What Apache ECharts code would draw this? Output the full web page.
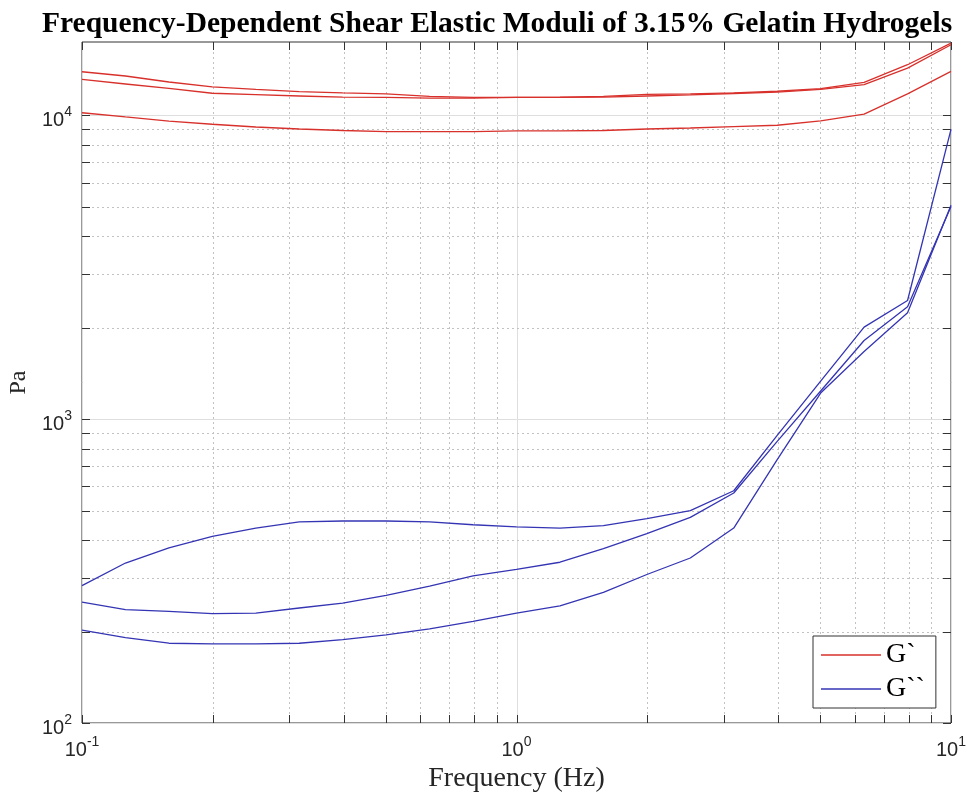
<!DOCTYPE html>
<html><head><meta charset="utf-8">
<script src="https://cdn.jsdelivr.net/npm/echarts@6/dist/echarts.min.js"></script>
<style>html,body{margin:0;padding:0;background:#fff}#c{width:967px;height:793px}</style>
</head><body><div id="c"></div>
<script>
// ---- data ----
const freqs = [0.1, 0.1259, 0.1585, 0.1995, 0.2512, 0.3162, 0.3981, 0.5012, 0.6310, 0.7943, 1, 1.2589, 1.5849, 1.9953, 2.5119, 3.1623, 3.9811, 5.0119, 6.3096, 7.9433, 10];
const gStorage1 = [13890, 13450, 12850, 12380, 12150, 11940, 11830, 11740, 11520, 11440, 11440, 11460, 11520, 11700, 11740, 11830, 11980, 12220, 12820, 14650, 17260];
const gStorage2 = [13110, 12660, 12240, 11800, 11680, 11560, 11460, 11430, 11380, 11380, 11430, 11430, 11460, 11560, 11650, 11780, 11910, 12150, 12590, 14280, 17040];
const gStorage3 = [10180, 9860, 9560, 9330, 9140, 9000, 8900, 8830, 8820, 8830, 8870, 8870, 8900, 9000, 9070, 9170, 9260, 9580, 10080, 11740, 13930];
const gLoss1 = [283, 336, 377, 411, 438, 459, 462, 462, 459, 449, 442, 438, 446, 470, 500, 581, 884, 1332, 2006, 2455, 8980];
const gLoss2 = [250, 236, 233, 229, 230, 239, 248, 263, 282, 305, 320, 338, 375, 420, 475, 571, 844, 1237, 1813, 2340, 5000];
const gLoss3 = [202, 191, 183, 182, 182, 183, 188, 195, 204, 216, 230, 243, 269, 308, 349, 438, 735, 1218, 1668, 2236, 5050];

const xMajor = [0.1, 1, 10];
const xMinor = [0.2, 0.3, 0.4, 0.5, 0.6, 0.7, 0.8, 0.9, 2, 3, 4, 5, 6, 7, 8, 9];
const yMajor = [100, 1000, 10000];
const yMinor = [200, 300, 400, 500, 600, 700, 800, 900, 2000, 3000, 4000, 5000, 6000, 7000, 8000, 9000];
const X_MIN = 0.1, X_MAX = 10, Y_MIN = 100, Y_MAX = 17400;

const titleText = 'Frequency-Dependent Shear Elastic Moduli of 3.15% Gelatin Hydrogels';
const nameStorage = 'G`', nameLoss = 'G``';

// ---- chart ----
const RED = '#d8312c', BLUE = '#3434b4';
const pairs = ys => freqs.map((f, i) => [f, ys[i]]);

function gridRenderer(dir, major) {
  return function (params, api) {
    const cs = params.coordSys;
    const tick = 8;
    const children = [];
    const gridStyle = major ? { stroke: '#dedede', lineWidth: 1 } : { stroke: '#c2c2c2', lineWidth: 1, lineDash: [2, 3] };
    const tickStyle = { stroke: '#333', lineWidth: 1 };
    if (dir === 'x') {
      const p = Math.round(api.coord([api.value(0), Y_MIN])[0]) + 0.5;
      const t = cs.y, b = cs.y + cs.height;
      children.push({ type: 'line', shape: { x1: p, y1: t, x2: p, y2: b }, style: gridStyle });
      children.push({ type: 'line', shape: { x1: p, y1: b, x2: p, y2: b - tick }, style: tickStyle });
      children.push({ type: 'line', shape: { x1: p, y1: t, x2: p, y2: t + tick }, style: tickStyle });
    } else {
      const p = Math.round(api.coord([X_MIN, api.value(1)])[1]) + 0.5;
      const l = cs.x, r = cs.x + cs.width;
      children.push({ type: 'line', shape: { x1: l, y1: p, x2: r, y2: p }, style: gridStyle });
      children.push({ type: 'line', shape: { x1: l, y1: p, x2: l + tick, y2: p }, style: tickStyle });
      children.push({ type: 'line', shape: { x1: r, y1: p, x2: r - tick, y2: p }, style: tickStyle });
    }
    return { type: 'group', children };
  };
}

function powLabel(v) {
  const e = Math.log10(v), r = Math.round(e);
  if (Math.abs(e - r) > 1e-6) return '';
  return '{b|10}{s|' + r + '}';
}
const richLab = {
  b: { fontSize: 20, fontFamily: 'Liberation Sans', color: '#262626', lineHeight: 25, verticalAlign: 'bottom' },
  s: { fontSize: 14, fontFamily: 'Liberation Sans', color: '#262626', lineHeight: 14, verticalAlign: 'top' }
};

function lineSeries(name, ys, color) {
  return {
    type: 'line', name, data: pairs(ys), showSymbol: false, symbol: 'none', z: 5,
    lineStyle: { color, width: 1.3 }, itemStyle: { color }, emphasis: { disabled: true }
  };
}

const chart = echarts.init(document.getElementById('c'), null, { renderer: 'canvas' });
chart.setOption({
  animation: false,
  backgroundColor: '#fff',
  title: {
    text: titleText, left: 37, top: 4,
    textStyle: { fontFamily: 'Liberation Serif', fontWeight: 'bold', fontSize: 29.5, color: '#000' }
  },
  grid: { left: 82, right: 16, top: 42, bottom: 70, outerBoundsMode: 'none', containLabel: false, show: true, borderColor: '#333', borderWidth: 1, backgroundColor: 'transparent' },
  xAxis: {
    type: 'log', logBase: 10, min: X_MIN, max: X_MAX,
    name: 'Frequency (Hz)', nameLocation: 'middle', nameGap: 25,
    nameTextStyle: { fontFamily: 'Liberation Serif', fontSize: 28, color: '#262626' },
    axisLine: { show: false }, axisTick: { show: false }, splitLine: { show: false }, minorSplitLine: { show: false },
    axisLabel: { formatter: powLabel, rich: richLab, margin: 12, showMinLabel: true, showMaxLabel: true }
  },
  yAxis: {
    type: 'log', logBase: 10, min: Y_MIN, max: Y_MAX,
    name: 'Pa', nameLocation: 'middle', nameGap: 45,
    nameTextStyle: { fontFamily: 'Liberation Serif', fontSize: 24, color: '#262626' },
    axisLine: { show: false }, axisTick: { show: false }, splitLine: { show: false }, minorSplitLine: { show: false },
    axisLabel: { formatter: powLabel, rich: richLab, margin: 10, padding: [6, 0, 0, 0], showMinLabel: true, showMaxLabel: true }
  },
  legend: {
    orient: 'vertical', left: 813, top: 636,
    data: [{ name: nameStorage, icon: 'rect' }, { name: nameLoss, icon: 'rect' }],
    itemWidth: 60, itemHeight: 1.5, itemGap: 6,
    padding: [5, 11, 5, 8],
    borderColor: '#333', borderWidth: 1, backgroundColor: '#fff',
    textStyle: { fontFamily: 'Liberation Serif', fontSize: 28, color: '#000', lineHeight: 28 },
    selectedMode: false
  },
  series: [
    { type: 'custom', silent: true, z: 1, clip: false, renderItem: gridRenderer('x', false), data: xMinor.map(v => [v, Y_MIN]) },
    { type: 'custom', silent: true, z: 1, clip: false, renderItem: gridRenderer('x', true), data: xMajor.map(v => [v, Y_MIN]) },
    { type: 'custom', silent: true, z: 1, clip: false, renderItem: gridRenderer('y', false), data: yMinor.map(v => [X_MIN, v]) },
    { type: 'custom', silent: true, z: 1, clip: false, renderItem: gridRenderer('y', true), data: yMajor.map(v => [X_MIN, v]) },
    lineSeries(nameStorage, gStorage1, RED),
    lineSeries(nameStorage, gStorage2, RED),
    lineSeries(nameStorage, gStorage3, RED),
    lineSeries(nameLoss, gLoss1, BLUE),
    lineSeries(nameLoss, gLoss2, BLUE),
    lineSeries(nameLoss, gLoss3, BLUE)
  ]
});
</script></body></html>
